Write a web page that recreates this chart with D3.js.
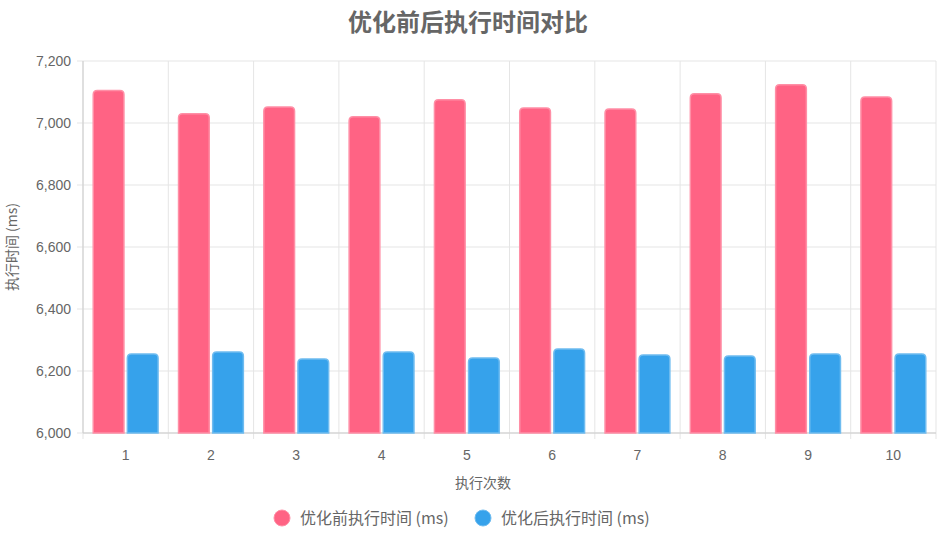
<!DOCTYPE html>
<html><head><meta charset="utf-8">
<script src="https://cdn.jsdelivr.net/npm/d3@7"></script>
<style>body{margin:0;background:#fff;font-family:"Noto Sans CJK SC","Noto Sans",sans-serif}</style>
</head><body><svg id="c" width="937" height="541"></svg>
<script>
const categories=["1","2","3","4","5","6","7","8","9","10"];
const before=[7105,7030,7052,7020,7075,7048,7045,7094,7123,7084];
const after=[6255,6261,6239,6261,6242,6271,6252,6248,6255,6255];
const yTicks=[6000,6200,6400,6600,6800,7000,7200];
const seriesNames=["优化前执行时间 (ms)","优化后执行时间 (ms)"];
const fills=["#FF6384","#36A2EB"],strokes=["#ff8fa6","#6fbcf0"];
const svg=d3.select("#c");
const L=83,R=936,T=61,B=433;
const x=d3.scaleBand().domain(categories).range([L,R]);
const y=d3.scaleLinear().domain([6000,7200]).range([B,T]);
const g=svg.append("g");
// grid
g.selectAll(".hg").data(yTicks).join("line").attr("x1",L-6).attr("x2",R).attr("y1",d=>y(d)).attr("y2",d=>y(d)).attr("stroke","#e5e5e5");
const vx=categories.map(c=>x(c)).concat([R]);
g.selectAll(".vg").data(vx).join("line").attr("x1",d=>d).attr("x2",d=>d).attr("y1",T).attr("y2",B+6).attr("stroke","#e5e5e5");
g.append("line").attr("x1",L).attr("x2",L).attr("y1",T).attr("y2",B).attr("stroke","#ccc");
g.append("line").attr("x1",L).attr("x2",R).attr("y1",B).attr("y2",B).attr("stroke","#ccc");
g.selectAll(".yl").data(yTicks).join("text").attr("x",L-12).attr("y",d=>y(d)+5).attr("text-anchor","end").attr("font-size",14).attr("fill","#666").attr("font-family","Liberation Sans, Arial").text(d3.format(","));
g.selectAll(".xl").data(categories).join("text").attr("x",d=>x(d)+x.bandwidth()/2).attr("y",B+27).attr("text-anchor","middle").attr("font-size",14).attr("fill","#666").attr("font-family","Liberation Sans, Arial").text(d=>d);
const cw=x.bandwidth()*0.8, bw=cw/2*0.9;
function rr(x0,w,yt,yb,r){r=Math.min(r,yb-yt);return `M${x0},${yb}V${yt+r}Q${x0},${yt} ${x0+r},${yt}H${x0+w-r}Q${x0+w},${yt} ${x0+w},${yt+r}V${yb}Z`;}
[before,after].forEach((s,i)=>{
 g.selectAll(".b"+i).data(s).join("path").attr("d",(v,j)=>{
  const c0=x(categories[j])+x.bandwidth()*0.1+i*cw/2+(cw/2-bw)/2;
  return rr(c0,bw,y(v),B,4);}).attr("fill",fills[i]).attr("stroke",strokes[i]).attr("stroke-width",1.5);
});
svg.append("text").attr("x",468).attr("y",31).attr("text-anchor","middle").attr("font-size",24).attr("font-weight","bold").attr("fill","#666").text("优化前后执行时间对比");
svg.append("text").attr("x",483).attr("y",488).attr("text-anchor","middle").attr("font-size",14).attr("fill","#666").text("执行次数");
svg.append("text").attr("transform","translate(17,247) rotate(-90)").attr("text-anchor","middle").attr("font-size",14).attr("fill","#666").text("执行时间 (ms)");
const lg=[[282,300],[483,501]];
seriesNames.forEach((n,i)=>{
 svg.append("circle").attr("cx",lg[i][0]).attr("cy",518).attr("r",8).attr("fill",fills[i]).attr("stroke",strokes[i]);
 svg.append("text").attr("x",lg[i][1]).attr("y",524).attr("font-size",16).attr("fill","#666").text(n);
});
</script></body></html>
